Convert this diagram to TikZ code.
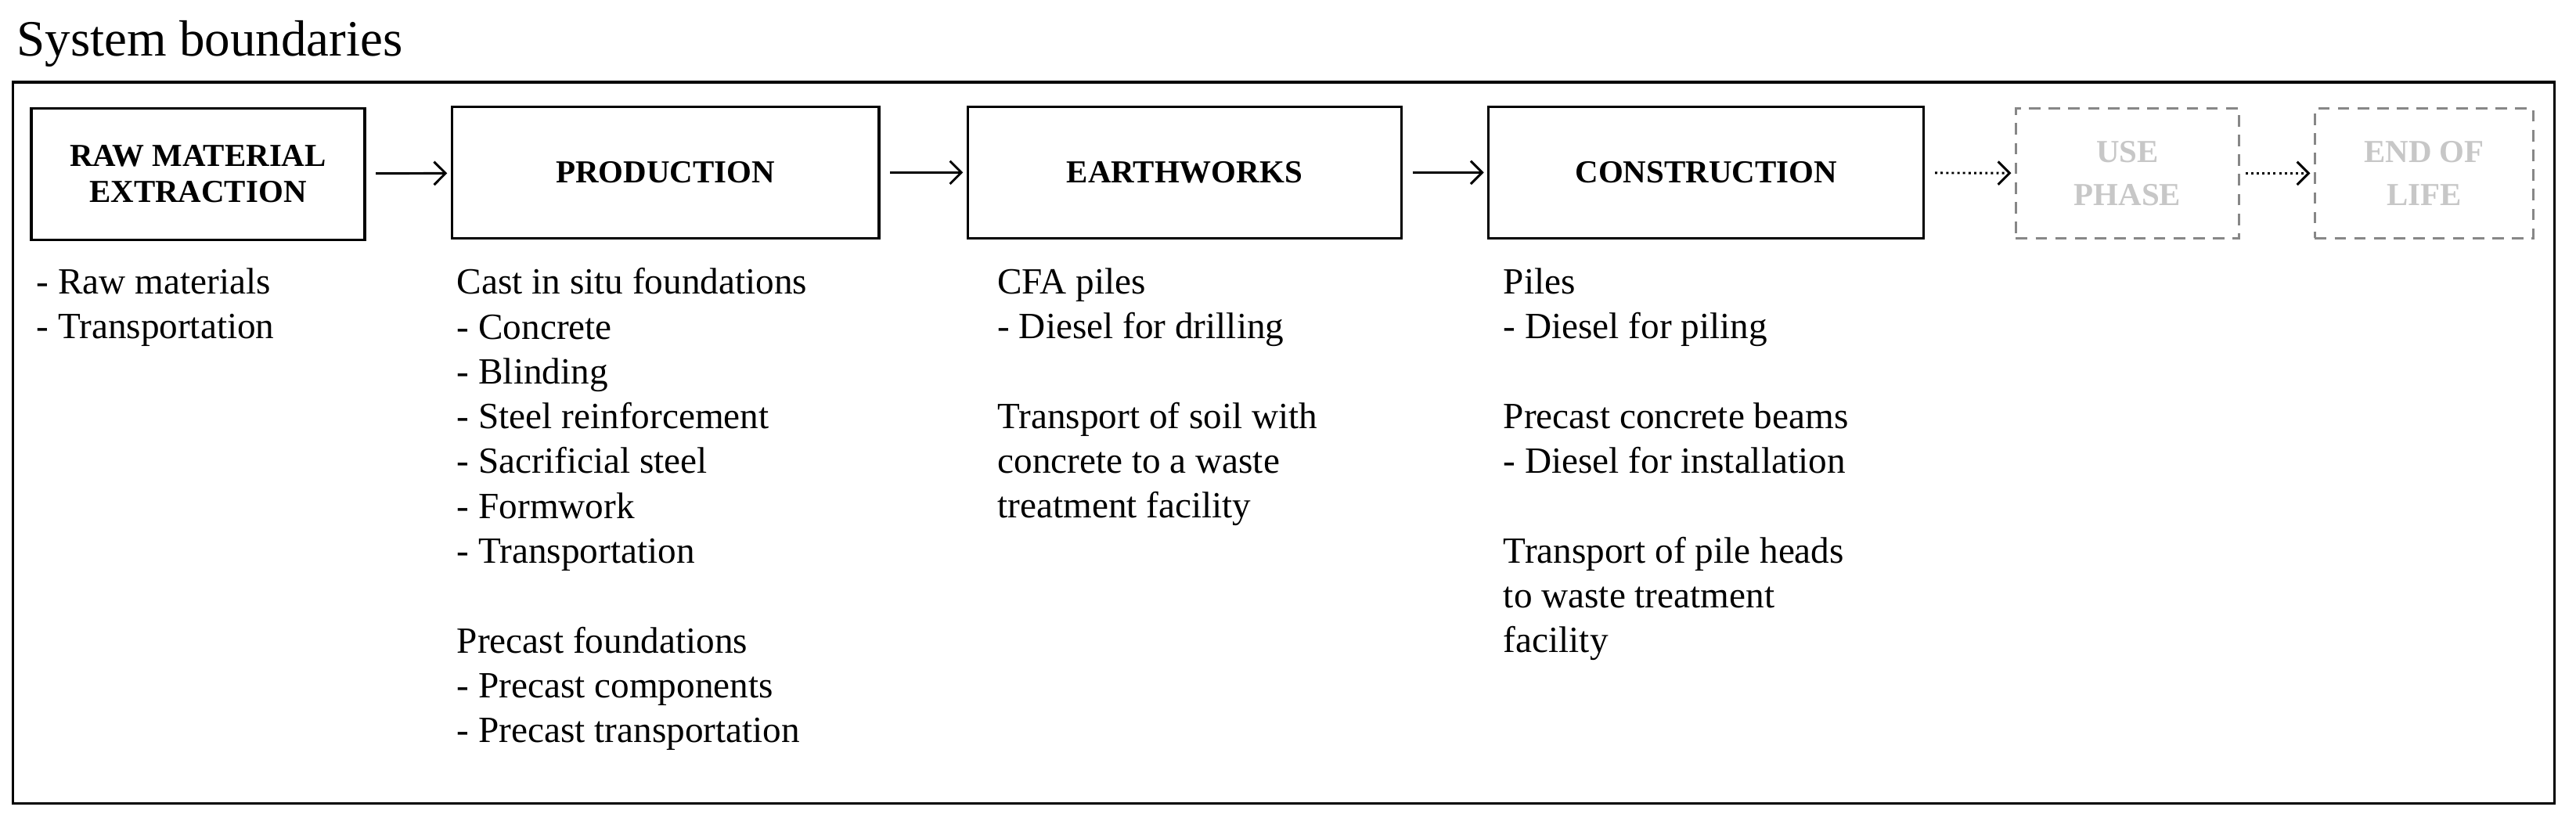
\documentclass[tikz,border=0pt]{standalone}
\usepackage{fontspec}
\setmainfont{Liberation Serif}
\usetikzlibrary{arrows.meta}
\begin{document}
\begin{tikzpicture}[x=1pt,y=-1pt,
  stage/.style={draw,line width=1.6pt,font=\fontsize{19.5}{22}\selectfont\bfseries,align=center,inner sep=0},
  future/.style={draw=black!47,dashed,dash pattern=on 7pt off 5pt,line width=1.6pt,text=black!22,font=\fontsize{19.5}{26}\selectfont\bfseries,align=center,inner sep=0},
  list/.style={anchor=north west,inner sep=0,align=left,font=\fontsize{22.5}{27.3}\selectfont},
  arr/.style={-{Straight Barb[length=7pt,width=14pt]},line width=1.4pt,shorten <=6pt,shorten >=2pt},
  darr/.style={arr,dotted}]
\useasboundingbox (0,0) rectangle (1568,506);
\node[anchor=base west,inner sep=0,font=\fontsize{31}{32}\selectfont] (title) at (10,34) {System boundaries};
\draw[line width=1.6pt] (8,50) rectangle (1555,489);
\node[stage,minimum width=203pt,minimum height=80pt] (raw) at (120.5,106) {RAW MATERIAL\\EXTRACTION};
\node[stage,minimum width=260pt,minimum height=80pt] (prod) at (405,105) {PRODUCTION};
\node[stage,minimum width=264pt,minimum height=80pt] (earth) at (721,105) {EARTHWORKS};
\node[stage,minimum width=265pt,minimum height=80pt] (cons) at (1038.5,105) {CONSTRUCTION};
\node[future,minimum width=136pt,minimum height=79pt] (use) at (1295,105.5) {USE\\PHASE};
\node[future,minimum width=133pt,minimum height=79pt] (eol) at (1475.5,105.5) {END OF\\LIFE};
\draw[arr] (raw) -- (prod);
\draw[arr] (prod) -- (earth);
\draw[arr] (earth) -- (cons);
\draw[darr] (cons) -- (use);
\draw[darr,shorten <=3pt] (use) -- (eol);
\node[list] (lraw) at (22,163) {- Raw materials\\- Transportation};
\node[list] (lprod) at (278,163) {Cast in situ foundations\\- Concrete\\- Blinding\\- Steel reinforcement\\- Sacrificial steel\\- Formwork\\- Transportation\\[27.3pt]Precast foundations\\- Precast components\\- Precast transportation};
\node[list] (learth) at (607,163) {CFA piles\\- Diesel for drilling\\[27.3pt]Transport of soil with\\concrete to a waste\\treatment facility};
\node[list] (lcons) at (915,163) {Piles\\- Diesel for piling\\[27.3pt]Precast concrete beams\\- Diesel for installation\\[27.3pt]Transport of pile heads\\to waste treatment\\facility};
\end{tikzpicture}
\end{document}
